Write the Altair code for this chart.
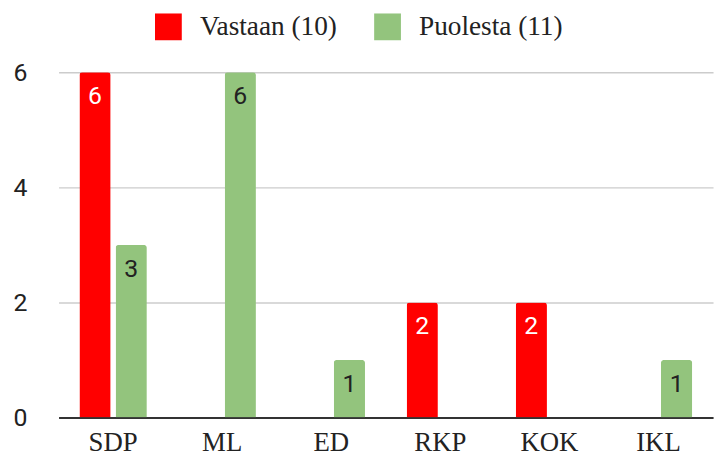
import altair as alt
import pandas as pd

categories = ["SDP", "ML", "ED", "RKP", "KOK", "IKL"]
series = ["Vastaan (10)", "Puolesta (11)"]
vastaan = [6, 0, 0, 2, 2, 0]
puolesta = [3, 6, 1, 0, 0, 1]
colors = ["#ff0000", "#93c47d"]
label_colors = ["#ffffff", "#222222"]
y_ticks = [0, 2, 4, 6]

rows = []
for c, v, p in zip(categories, vastaan, puolesta):
    rows.append({"party": c, "series": series[0], "value": v})
    rows.append({"party": c, "series": series[1], "value": p})
df = pd.DataFrame(rows)

x_enc = alt.X("party:N", sort=categories,
              scale=alt.Scale(domain=categories, range=[19, 679], paddingInner=0, paddingOuter=0),
              axis=alt.Axis(title=None, labelAngle=0, labelFont="Liberation Serif", labelFontSize=27,
                            labelColor="#222222", labelBaseline="alphabetic", labelPadding=33,
                            ticks=False, tickSize=0, domainColor="#333333", domainWidth=2, grid=False))
xoff_enc = alt.XOffset("series:N", sort=series,
                       scale=alt.Scale(domain=series, paddingInner=0.137, paddingOuter=0.575))
y_enc = alt.Y("value:Q", scale=alt.Scale(domain=[0, 6], nice=False),
              axis=alt.Axis(title=None, values=y_ticks, labelFont="Roboto", labelFontSize=25,
                            labelColor="#222222", labelPadding=13, ticks=False, domain=False,
                            gridColor="#cccccc", gridWidth=1.5))

base = alt.Chart(df).transform_filter(alt.datum.value > 0)

bars = base.mark_bar(cornerRadiusTopLeft=3, cornerRadiusTopRight=3).encode(
    x=x_enc, xOffset=xoff_enc, y=y_enc,
    color=alt.Color("series:N", sort=series,
                    scale=alt.Scale(domain=series, range=colors),
                    legend=alt.Legend(title=None, orient="none", legendX=116, legendY=-60,
                                      direction="horizontal", symbolType="square", symbolSize=729,
                                      symbolStrokeWidth=0, labelFont="Liberation Serif",
                                      labelFontSize=27.5, labelColor="#222222", labelOffset=18,
                                      columnPadding=37, padding=0, labelLimit=300)),
)

texts = []
for s, lc in zip(series, label_colors):
    t = base.transform_filter(alt.datum.series == s).mark_text(
        baseline="alphabetic", dy=32, font="Roboto", fontSize=25, color=lc
    ).encode(x=x_enc, xOffset=xoff_enc, y=y_enc, text="value:Q")
    texts.append(t)

chart = alt.layer(bars, *texts).properties(
    width=684, height=348,
    autosize=alt.AutoSizeParams(type="none"),
    padding={"left": 32, "top": 63, "right": 0, "bottom": 38},
).configure_view(stroke=None)

chart.save("out.html", embed_options={"renderer": "svg", "actions": False})
